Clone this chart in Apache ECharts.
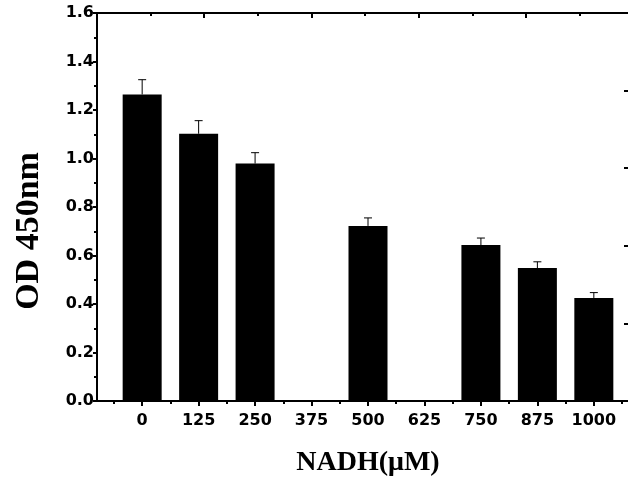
<!DOCTYPE html>
<html>
<head>
<meta charset="utf-8">
<script src="https://cdn.jsdelivr.net/npm/echarts@6/dist/echarts.min.js"></script>
<style>
    html, body { margin: 0; padding: 0; background: #fff; overflow: hidden; }
    #main { width: 639px; height: 482px; }
</style>
</head>
<body>
<div id="main"></div>
<script>
// tick labels of the NADH axis (uM)
var doses = ['0', '125', '250', '375', '500', '625', '750', '875', '1000'];
// doses that have a bar (375 and 625 are empty)
var barDoses = [0, 125, 250, 500, 750, 875, 1000];
// OD 450nm mean and error (upper only)
var odMeans = [1.264, 1.102, 0.979, 0.722, 0.643, 0.548, 0.425];
var odErrors = [0.061, 0.054, 0.045, 0.033, 0.029, 0.026, 0.022];

var labelFont = { fontFamily: 'DejaVu Sans', fontWeight: 'bold', fontSize: 16, color: '#000' };
var lineStyle = { color: '#000', width: 2 };

var doseNums = doses.map(function (d) { return Number(d); });
var minorNums = [];
for (var i = 0; i < doseNums.length; i++) {
    minorNums.push(doseNums[i] - 62.5);
}
minorNums.push(doseNums[doseNums.length - 1] + 62.5);

var barData = [];
var errData = [];
for (var j = 0; j < barDoses.length; j++) {
    barData.push([barDoses[j], odMeans[j]]);
    errData.push([barDoses[j], odMeans[j], odErrors[j]]);
}

function renderErrorBar(params, api) {
    var x = api.value(0);
    var base = api.coord([x, api.value(1)]);
    var top = api.coord([x, api.value(1) + api.value(2)]);
    var st = { stroke: '#000', lineWidth: 1 };
    return {
        type: 'group',
        children: [
            { type: 'line', shape: { x1: base[0], y1: base[1], x2: top[0], y2: top[1] }, style: st },
            { type: 'line', shape: { x1: top[0] - 4, y1: top[1], x2: top[0] + 4, y2: top[1] }, style: st }
        ]
    };
}

// the plot runs past the right edge of the 628px window, like the reference
var myChart = echarts.init(document.getElementById('main'), null, { renderer: 'canvas' });

var option = {
    backgroundColor: '#fff',
    animation: false,
    grid: { left: 97, right: 0, top: 13, bottom: 80 },
    xAxis: [
        {
            type: 'value',
            position: 'bottom',
            min: -100,
            max: 1100,
            name: 'NADH(μM)',
            nameLocation: 'middle',
            nameGap: 48,
            nameTextStyle: { fontFamily: 'Liberation Serif', fontWeight: 'bold', fontSize: 28, color: '#000' },
            axisLine: { onZero: false, lineStyle: lineStyle },
            axisTick: { customValues: doseNums, length: 5, lineStyle: { color: '#000', width: 2 } },
            axisLabel: {
                customValues: doseNums,
                margin: 12,
                formatter: function (v) { return doses[doseNums.indexOf(v)]; },
                fontFamily: labelFont.fontFamily, fontWeight: labelFont.fontWeight,
                fontSize: labelFont.fontSize, color: labelFont.color
            },
            splitLine: { show: false }
        },
        {
            type: 'value',
            position: 'bottom',
            min: -100,
            max: 1100,
            axisLine: { show: false, onZero: false },
            axisTick: { customValues: minorNums, length: 3, lineStyle: { color: '#000', width: 2 } },
            axisLabel: { show: false },
            splitLine: { show: false }
        },
        {
            type: 'value',
            position: 'top',
            min: 0,
            max: 10.11,
            interval: 2,
            axisLine: { onZero: false, lineStyle: lineStyle },
            axisTick: { inside: true, length: 5, lineStyle: { color: '#000', width: 2 } },
            minorTick: { show: true, splitNumber: 2, length: 3, lineStyle: { color: '#000', width: 2 } },
            axisLabel: { show: false },
            splitLine: { show: false },
            minorSplitLine: { show: false }
        }
    ],
    yAxis: [
        {
            type: 'value',
            position: 'left',
            min: 0,
            max: 1.6,
            interval: 0.2,
            axisLine: { onZero: false, lineStyle: lineStyle },
            axisTick: { length: 4, lineStyle: { color: '#000', width: 2 } },
            minorTick: { show: true, splitNumber: 2, length: 3, lineStyle: { color: '#000', width: 2 } },
            axisLabel: {
                margin: 3,
                formatter: function (v) { return v.toFixed(1); },
                fontFamily: labelFont.fontFamily, fontWeight: labelFont.fontWeight,
                fontSize: labelFont.fontSize, color: labelFont.color
            },
            splitLine: { show: false },
            minorSplitLine: { show: false }
        },
        {
            type: 'value',
            position: 'right',
            min: 0,
            max: 5,
            interval: 1,
            axisLine: { show: false, onZero: false },
            axisTick: { inside: true, length: 15, lineStyle: { color: '#000', width: 2 } },
            axisLabel: { show: false },
            splitLine: { show: false }
        }
    ],
    graphic: [
        {
            type: 'text',
            x: 29,
            y: 231,
            rotation: Math.PI / 2,
            style: {
                text: 'OD 450nm',
                fontFamily: 'Liberation Serif',
                fontWeight: 'bold',
                fontSize: 34,
                fill: '#000',
                align: 'center',
                verticalAlign: 'middle'
            }
        }
    ],
    series: [
        {
            name: 'OD',
            type: 'bar',
            xAxisIndex: 0,
            yAxisIndex: 0,
            barWidth: 39,
            itemStyle: { color: '#000' },
            data: barData
        },
        {
            name: 'err',
            type: 'custom',
            xAxisIndex: 0,
            yAxisIndex: 0,
            renderItem: renderErrorBar,
            data: errData,
            z: 3
        }
    ]
};

myChart.setOption(option);
</script>
</body>
</html>
